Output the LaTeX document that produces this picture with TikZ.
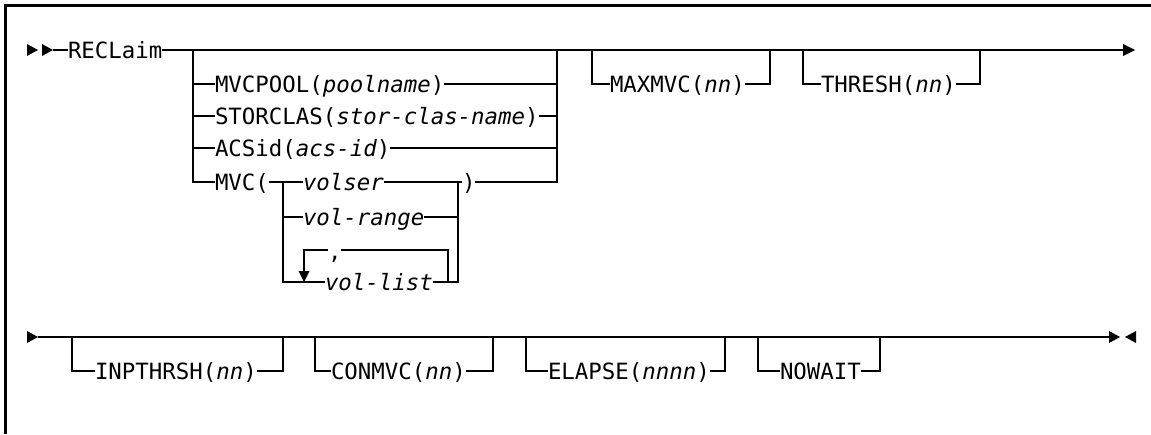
\documentclass[tikz,border=0pt]{standalone}
\usepackage{fontspec}
\newfontfamily\monofnt{DejaVu Sans Mono}
\begin{document}
\begin{tikzpicture}[x=1pt,y=-1pt,line width=1.8pt,
  lbl/.style={anchor=west,inner sep=0pt,outer sep=0pt,text height=16pt,text depth=0pt,font=\monofnt\fontsize{22.4}{26}\selectfont},
  frame/.style={line width=2.2pt},
  tri/.style={fill=black,draw=none}]
\useasboundingbox (0,0) rectangle (1151,434);
% frame
\draw[frame] (5.5,434) -- (5.5,5.5) -- (1151,5.5);

% ---------- row 1 ----------
\fill[tri] (27,44) -- (38,50) -- (27,56) -- cycle;
\fill[tri] (42,44) -- (53,50) -- (42,56) -- cycle;
\coordinate (a1) at (53,50);
\node[lbl] (reclaim) at (68,50) {RECLaim};
\coordinate (end1) at (1123,50);
\draw (a1) -- (reclaim.west);
\draw (reclaim.east) -- (end1);
\fill[tri] (1123,44) -- (1135,50) -- (1123,56) -- cycle;

% group 1
\coordinate (g1l) at (193,50);
\coordinate (g1r) at (557,50);
\node[lbl] (mvcpool) at (215,84) {MVCPOOL(\itshape poolname\upshape)};
\node[lbl] (storclas) at (215,116) {STORCLAS(\itshape stor-clas-name\upshape)};
\node[lbl] (acsid) at (215,148) {ACSid(\itshape acs-id\upshape)};
\node[lbl] (mvcopen) at (215,182) {MVC(};
\node[lbl] (mvcclose) at (462,182) {)};
\draw (g1l) |- (mvcopen.west);
\draw (g1l |- mvcpool.west) -- (mvcpool.west);
\draw (g1l |- storclas.west) -- (storclas.west);
\draw (g1l |- acsid.west) -- (acsid.west);
\draw (g1r) |- (mvcclose.east);
\draw (mvcpool.east) -- (g1r |- mvcpool.east);
\draw (storclas.east) -- (g1r |- storclas.east);
\draw (acsid.east) -- (g1r |- acsid.east);

% inner MVC group
\coordinate (il) at (283,182);
\coordinate (ir) at (458,182);
\node[lbl] (volser) at (303,182) {\itshape volser};
\node[lbl] (volrange) at (303,217) {\itshape vol-range};
\node[lbl] (vollist) at (325,282) {\itshape vol-list};
\draw (mvcopen.east) -- (il);
\draw (il) |- (vollist.west);
\draw (il |- volser.west) -- (volser.west);
\draw (il |- volrange.west) -- (volrange.west);
\draw (ir) |- (vollist.east);
\draw (volser.east) -- (ir);
\draw (volrange.east) -- (ir |- volrange.east);
\draw (ir) -- (mvcclose.west);
% repeat loop
\coordinate (lr) at (448,282);
\coordinate (ll) at (304,250);
\node[lbl,text height=10pt] (comma) at (328,254) {,};
\draw (lr) -- (448,250) -- (comma.east |- ll);
\draw (comma.west |- ll) -- (ll) -- (304,272);
\fill[tri] (298.5,271) -- (309.5,271) -- (304,282) -- cycle;

% MAXMVC
\node[lbl] (maxmvc) at (610,84) {MAXMVC(\itshape nn\upshape)};
\coordinate (m1) at (592,50);
\coordinate (m2) at (770,50);
\draw (m1) |- (maxmvc.west);
\draw (maxmvc.east) -| (m2);
% THRESH
\node[lbl] (thresh) at (821,84) {THRESH(\itshape nn\upshape)};
\coordinate (t1) at (803,50);
\coordinate (t2) at (980,50);
\draw (t1) |- (thresh.west);
\draw (thresh.east) -| (t2);

% ---------- row 2 ----------
\fill[tri] (27,331) -- (38,337) -- (27,343) -- cycle;
\coordinate (b1) at (38,337);
\coordinate (end2) at (1110,337);
\draw (b1) -- (end2);
\fill[tri] (1109,331) -- (1120,337) -- (1109,343) -- cycle;
\fill[tri] (1136,331) -- (1125,337) -- (1136,343) -- cycle;

\node[lbl] (inp) at (95,371) {INPTHRSH(\itshape nn\upshape)};
\coordinate (i1) at (72,337);
\coordinate (i2) at (283,337);
\draw (i1) |- (inp.west);
\draw (inp.east) -| (i2);

\node[lbl] (conmvc) at (331,371) {CONMVC(\itshape nn\upshape)};
\coordinate (c1) at (315,337);
\coordinate (c2) at (493,337);
\draw (c1) |- (conmvc.west);
\draw (conmvc.east) -| (c2);

\node[lbl] (elapse) at (548,371) {ELAPSE(\itshape nnnn\upshape)};
\coordinate (e1) at (526,337);
\coordinate (e2) at (725,337);
\draw (e1) |- (elapse.west);
\draw (elapse.east) -| (e2);

\node[lbl] (nowait) at (780,371) {NOWAIT};
\coordinate (n1) at (758,337);
\coordinate (n2) at (880,337);
\draw (n1) |- (nowait.west);
\draw (nowait.east) -| (n2);
\end{tikzpicture}
\end{document}
